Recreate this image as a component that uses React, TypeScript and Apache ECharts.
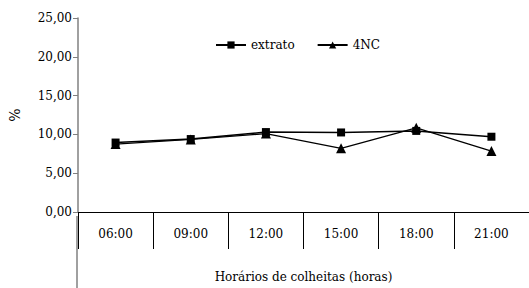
import React, { useEffect, useRef } from "react";
import * as echarts from "echarts";

const categories = ["06:00", "09:00", "12:00", "15:00", "18:00", "21:00"];
const extrato = [8.95, 9.4, 10.3, 10.25, 10.45, 9.7];
const nc4 = [8.75, 9.35, 10.1, 8.2, 10.85, 7.85];
const yTicks = [0, 5, 10, 15, 20, 25];

const FONT = "DejaVu Serif";

export default function App() {
  const ref = useRef<HTMLDivElement>(null);
  useEffect(() => {
    document.body.style.margin = "0";
    const chart = echarts.init(ref.current!, null, { renderer: "svg" });
    chart.setOption({
      animation: false,
      backgroundColor: "#fff",
      textStyle: { fontFamily: FONT },
      grid: { left: 77, right: -6, top: 18, bottom: 72 },
      legend: {
        top: 34,
        left: 210,
        itemWidth: 30,
        itemHeight: 9,
        itemGap: 22,
        textStyle: { fontFamily: FONT, fontSize: 12, color: "#000" },
        data: ["extrato", "4NC"],
      },
      xAxis: {
        type: "category",
        data: categories,
        boundaryGap: true,
        name: "Horários de colheitas (horas)",
        nameLocation: "middle",
        nameGap: 59,
        nameTextStyle: { fontFamily: FONT, fontSize: 12, color: "#000" },
        axisLine: { lineStyle: { color: "#000", width: 1 } },
        axisTick: { show: true, length: 37, lineStyle: { color: "#000" } },
        axisLabel: { fontFamily: FONT, fontSize: 12, color: "#000", margin: 16 },
      },
      yAxis: {
        type: "value",
        min: 0,
        max: 25,
        interval: 5,
        name: "%",
        nameLocation: "middle",
        nameGap: 56,
        nameRotate: 90,
        nameTextStyle: { fontFamily: FONT, fontSize: 14, color: "#000" },
        axisLine: { show: true, lineStyle: { color: "#808080", width: 1.5 } },
        axisTick: { show: true, length: 5, lineStyle: { color: "#808080" } },
        splitLine: { show: false },
        axisLabel: {
          fontFamily: FONT,
          fontSize: 12,
          color: "#000",
          margin: 6,
          formatter: (v: number) => (yTicks.includes(v) ? v.toFixed(2).replace(".", ",") : ""),
        },
      },
      graphic: [
        {
          type: "line",
          shape: { x1: 77, y1: 216, x2: 77, y2: 288 },
          style: { stroke: "#808080", lineWidth: 1.5 },
        },
      ],
      series: [
        {
          name: "extrato",
          type: "line",
          data: extrato,
          symbol: "rect",
          symbolSize: 8,
          itemStyle: { color: "#000" },
          lineStyle: { color: "#000", width: 1.5 },
        },
        {
          name: "4NC",
          type: "line",
          data: nc4,
          symbol: "triangle",
          symbolSize: 10,
          itemStyle: { color: "#000" },
          lineStyle: { color: "#000", width: 1.2 },
        },
      ],
    });
    return () => chart.dispose();
  }, []);
  return <div ref={ref} style={{ width: 529, height: 288 }} />;
}
